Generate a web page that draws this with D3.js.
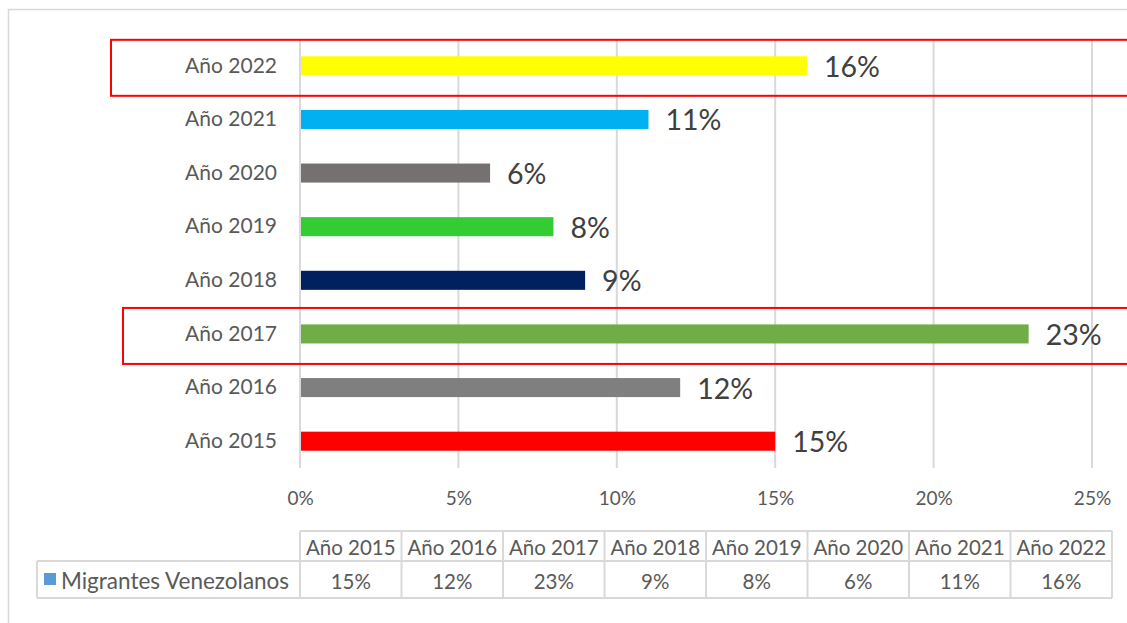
<!DOCTYPE html>
<html>
<head>
<meta charset="utf-8">
<script src="https://cdn.jsdelivr.net/npm/d3@7"></script>
<style>
  html, body { margin: 0; padding: 0; background: #fff; }
  svg { display: block; font-family: Lato, "Liberation Sans", sans-serif; }
</style>
</head>
<body>
<svg id="chart" width="1127" height="623"></svg>
<script>
// ---- data ----
const categories = ["Año 2015", "Año 2016", "Año 2017", "Año 2018", "Año 2019", "Año 2020", "Año 2021", "Año 2022"];
const values = [15, 12, 23, 9, 8, 6, 11, 16];
const barColors = ["#FF0000", "#7F7F7F", "#70AD47", "#002060", "#33CC33", "#767171", "#00B0F0", "#FFFF00"];
const xTicks = [0, 5, 10, 15, 20, 25];
const seriesName = "Migrantes Venezolanos";
const highlighted = ["Año 2022", "Año 2017"];

// ---- layout ----
const svg = d3.select("#chart");
const plot = { left: 300, right: 1092, top: 39, bottom: 468 };

const x = d3.scaleLinear().domain([0, 25]).range([plot.left, plot.right]);
const y = d3.scaleBand()
  .domain(categories.slice().reverse())
  .range([plot.top, plot.bottom])
  .paddingInner(0.645)
  .paddingOuter(0.3225);

// outer chart border
svg.append("rect")
  .attr("x", 8.5).attr("y", 9.5)
  .attr("width", 1140).attr("height", 640)
  .attr("fill", "none").attr("stroke", "#D9D9D9").attr("stroke-width", 1.5);

// gridlines
svg.append("g")
  .selectAll("line")
  .data(xTicks)
  .join("line")
  .attr("x1", d => x(d)).attr("x2", d => x(d))
  .attr("y1", plot.top).attr("y2", plot.bottom)
  .attr("stroke", "#D9D9D9").attr("stroke-width", 2);

// bars
svg.append("g")
  .selectAll("rect")
  .data(categories)
  .join("rect")
  .attr("x", x(0) + 1)
  .attr("y", d => y(d))
  .attr("width", (d, i) => x(values[i]) - x(0) - 1)
  .attr("height", y.bandwidth())
  .attr("fill", (d, i) => barColors[i]);

// data labels
svg.append("g")
  .selectAll("text")
  .data(categories)
  .join("text")
  .attr("x", (d, i) => x(values[i]) + 17)
  .attr("y", d => y(d) + y.bandwidth() / 2)
  .attr("dominant-baseline", "central")
  .attr("font-size", 28.5)
  .attr("fill", "#404040")
  .text((d, i) => values[i] + "%");

// category axis labels
const yAxis = d3.axisLeft(y).tickSize(0).tickPadding(23);
const yg = svg.append("g").attr("transform", `translate(${plot.left},0)`).call(yAxis);
yg.select(".domain").remove();
yg.selectAll("text").attr("font-size", 21).attr("fill", "#595959").attr("font-family", "Lato, 'Liberation Sans', sans-serif");

// x axis tick labels
const xAxis = d3.axisBottom(x).tickValues(xTicks).tickSize(0).tickPadding(0).tickFormat(d => d + "%");
const xg = svg.append("g").attr("transform", `translate(0,${plot.bottom + 29})`).call(xAxis);
xg.select(".domain").remove();
xg.selectAll("text").attr("font-size", 19).attr("fill", "#595959").attr("dy", null)
  .attr("dominant-baseline", "central").attr("font-family", "Lato, 'Liberation Sans', sans-serif");

// highlight boxes
const boxLeft = { "Año 2022": 111, "Año 2017": 123 };
svg.append("g")
  .selectAll("rect")
  .data(highlighted)
  .join("rect")
  .attr("x", d => boxLeft[d])
  .attr("y", d => y(d) + y.bandwidth() / 2 - 26)
  .attr("width", 1100)
  .attr("height", 56)
  .attr("fill", "none").attr("stroke", "#FF0000").attr("stroke-width", 2);

// data table
const tbl = { left: 300, right: 1112, top: 531, mid: 561, bottom: 598, legendLeft: 37 };
const colX = d3.scaleBand().domain(categories).range([tbl.left, tbl.right]);
const tg = svg.append("g");
const gridCol = "#D9D9D9";
// horizontal lines
tg.append("line").attr("x1", tbl.left).attr("x2", tbl.right).attr("y1", tbl.top).attr("y2", tbl.top)
  .attr("stroke", gridCol).attr("stroke-width", 2);
tg.append("line").attr("x1", tbl.legendLeft).attr("x2", tbl.right).attr("y1", tbl.mid).attr("y2", tbl.mid)
  .attr("stroke", gridCol).attr("stroke-width", 2);
tg.append("line").attr("x1", tbl.legendLeft).attr("x2", tbl.right).attr("y1", tbl.bottom).attr("y2", tbl.bottom)
  .attr("stroke", gridCol).attr("stroke-width", 2);
// vertical lines
tg.append("line").attr("x1", tbl.legendLeft).attr("x2", tbl.legendLeft).attr("y1", tbl.mid).attr("y2", tbl.bottom)
  .attr("stroke", gridCol).attr("stroke-width", 2);
tg.selectAll("line.v")
  .data(categories.concat(["end"]))
  .join("line")
  .attr("class", "v")
  .attr("x1", d => d === "end" ? tbl.right : colX(d))
  .attr("x2", d => d === "end" ? tbl.right : colX(d))
  .attr("y1", tbl.top).attr("y2", tbl.bottom)
  .attr("stroke", gridCol).attr("stroke-width", 2);
// header texts
tg.selectAll("text.h")
  .data(categories)
  .join("text")
  .attr("class", "h")
  .attr("x", d => colX(d) + colX.bandwidth() / 2)
  .attr("y", (tbl.top + tbl.mid) / 2 + 1)
  .attr("text-anchor", "middle").attr("dominant-baseline", "central")
  .attr("font-size", 20.5).attr("fill", "#595959")
  .text(d => d);
// value texts
tg.selectAll("text.v")
  .data(categories)
  .join("text")
  .attr("class", "v")
  .attr("x", d => colX(d) + colX.bandwidth() / 2)
  .attr("y", (tbl.mid + tbl.bottom) / 2 + 1)
  .attr("text-anchor", "middle").attr("dominant-baseline", "central")
  .attr("font-size", 20.5).attr("fill", "#595959")
  .text((d, i) => values[i] + "%");
// legend key + name
tg.append("rect").attr("x", 44).attr("y", 573).attr("width", 12).attr("height", 12).attr("fill", "#5B9BD5");
tg.append("text")
  .attr("x", 61).attr("y", (tbl.mid + tbl.bottom) / 2 + 1)
  .attr("dominant-baseline", "central")
  .attr("font-size", 22.5).attr("fill", "#595959")
  .text(seriesName);
</script>
</body>
</html>
